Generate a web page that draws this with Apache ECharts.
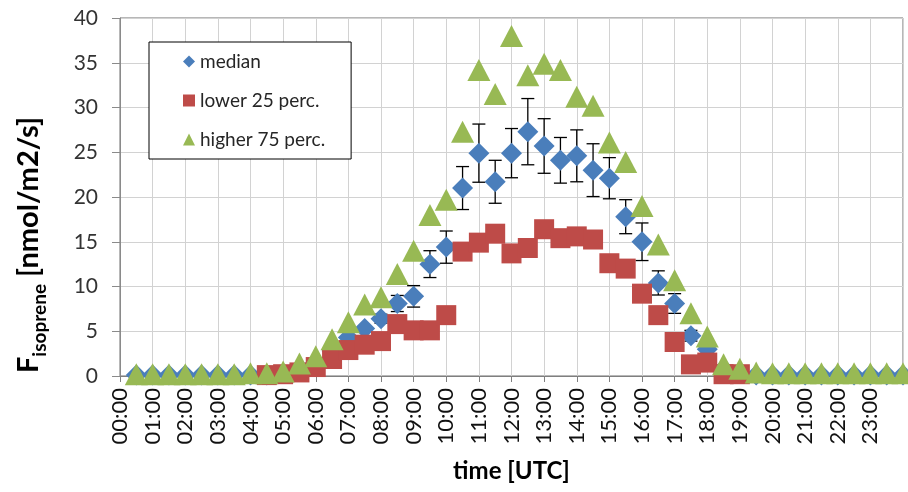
<!DOCTYPE html>
<html>
<head>
<meta charset="utf-8">
<title>Isoprene flux diurnal cycle</title>
<script src="https://cdn.jsdelivr.net/npm/echarts@6/dist/echarts.min.js"></script>
<style>
  html, body { margin: 0; padding: 0; background: #fff; }
  #chart { width: 908px; height: 492px; }
</style>
</head>
<body>
<div id="chart"></div>
<script>
// Half-hourly time stamps (UTC)
const times = [
  '00:30','01:00','01:30','02:00','02:30','03:00','03:30','04:00',
  '04:30','05:00','05:30','06:00','06:30','07:00','07:30','08:00',
  '08:30','09:00','09:30','10:00','10:30','11:00','11:30','12:00',
  '12:30','13:00','13:30','14:00','14:30','15:00','15:30','16:00',
  '16:30','17:00','17:30','18:00','18:30','19:00','19:30','20:00',
  '20:30','21:00','21:30','22:00','22:30','23:00','23:30','24:00'
];

// Isoprene flux, nmol/m2/s
const median = [
  0.1, 0.1, 0.1, 0.1, 0.1, 0.1, 0.1, 0.1,
  0.1, 0.3, 0.8, 1.5, 2.8, 4.3, 5.3, 6.4,
  8.1, 8.9, 12.5, 14.4, 21.0, 24.9, 21.7, 24.9,
  27.3, 25.7, 24.1, 24.6, 23.0, 22.1, 17.8, 15.0,
  10.4, 8.1, 4.5, 3.0, 0.8, 0.3, 0.1, 0.1,
  0.1, 0.1, 0.1, 0.1, 0.1, 0.1, 0.1, 0.1
];
const medianErr = [
  0, 0, 0, 0, 0, 0, 0, 0,
  0, 0, 0, 0, 0, 0, 0, 0.5,
  0.9, 1.2, 1.5, 1.8, 2.4, 3.25, 2.4, 2.75,
  3.7, 3.05, 2.55, 2.9, 2.95, 2.3, 1.9, 2.1,
  1.35, 1.1, 0.6, 0.5, 0, 0, 0, 0,
  0, 0, 0, 0, 0, 0, 0, 0
];
const lower25 = [
  null, null, null, null, null, null, null, null,
  0.1, 0.2, 0.4, 1.0, 1.9, 2.9, 3.5, 3.9,
  5.8, 5.1, 5.1, 6.8, 13.9, 14.9, 15.9, 13.7,
  14.3, 16.4, 15.4, 15.6, 15.25, 12.6, 12.0, 9.2,
  6.8, 3.8, 1.3, 1.5, 0.2, 0.2, null, null,
  null, null, null, null, null, null, null, null
];
const higher75 = [
  0.2, 0.2, 0.2, 0.2, 0.2, 0.2, 0.2, 0.3,
  0.3, 0.5, 1.4, 2.2, 4.1, 6.0, 8.0, 8.8,
  11.4, 14.0, 18.0, 19.7, 27.3, 34.2, 31.5, 38.0,
  33.6, 34.9, 34.2, 31.2, 30.2, 26.1, 23.9, 19.0,
  14.7, 10.7, 7.0, 4.4, 1.3, 0.8, 0.4, 0.3,
  0.3, 0.3, 0.3, 0.3, 0.3, 0.3, 0.3, 0.3
];

// Hourly tick labels
const hourLabels = [
  '00:00','01:00','02:00','03:00','04:00','05:00','06:00','07:00',
  '08:00','09:00','10:00','11:00','12:00','13:00','14:00','15:00',
  '16:00','17:00','18:00','19:00','20:00','21:00','22:00','23:00'
];

const seriesNames = ['median', 'lower 25 perc.', 'higher 75 perc.'];

function toHours(t) {
  const p = t.split(':');
  return Number(p[0]) + Number(p[1]) / 60;
}
const hours = times.map(toHours);
const pairs = arr => hours.map((h, i) => [h, arr[i]]);

const FONT = 'Lato, "Open Sans", sans-serif';

const chart = echarts.init(document.getElementById('chart'), null, { renderer: 'canvas' });

chart.setOption({
  backgroundColor: '#ffffff',
  animation: false,
  grid: {
    left: 120, right: 5, top: 18, bottom: 116,
    show: true, borderColor: '#6e6e6e', borderWidth: 1
  },
  legend: {
    orient: 'vertical',
    left: 149, top: 42,
    padding: [10, 26, 10, 34],
    itemGap: 20,
    itemWidth: 12, itemHeight: 12,
    backgroundColor: '#ffffff',
    borderColor: '#000000', borderWidth: 1,
    data: seriesNames,
    textStyle: { fontFamily: FONT, fontSize: 19, color: '#262626' }
  },
  xAxis: {
    type: 'value', min: 0, max: 24, interval: 1,
    name: 'time [UTC]', nameLocation: 'middle', nameGap: 83,
    nameTextStyle: { fontFamily: FONT, fontSize: 24, fontWeight: 'bold', color: '#000' },
    axisLine: { show: true, lineStyle: { color: '#7f7f7f', width: 1 } },
    axisTick: { show: true, inside: false, length: 6, lineStyle: { color: '#7f7f7f' } },
    splitLine: { show: true, lineStyle: { color: '#d2d2d2', width: 1 } },
    axisLabel: {
      rotate: 90, margin: 12,
      fontFamily: FONT, fontSize: 22, color: '#111',
      formatter: v => (v < hourLabels.length ? hourLabels[v] : '')
    }
  },
  yAxis: {
    type: 'value', min: 0, max: 40, interval: 5,
    axisLine: { show: true, lineStyle: { color: '#8a8a8a', width: 1 } },
    axisTick: { show: true, inside: false, length: 8, lineStyle: { color: '#8a8a8a' } },
    splitLine: { show: true, lineStyle: { color: '#d2d2d2', width: 1 } },
    axisLabel: { margin: 22, fontFamily: FONT, fontSize: 21, color: '#333' }
  },
  graphic: [{
    type: 'text',
    x: 29, y: 245,
    rotation: Math.PI / 2,
    style: {
      text: '{f|F}{s|isoprene}{f| [nmol/m2/s]}',
      align: 'center', verticalAlign: 'middle',
      fill: '#000',
      rich: {
        f: { fontFamily: FONT, fontSize: 29, fontWeight: 'bold', fill: '#000' },
        s: { fontFamily: FONT, fontSize: 19, fontWeight: 'bold', fill: '#000',
             verticalAlign: 'bottom', padding: [0, 0, -6, 0] }
      }
    }
  }],
  series: [
    {
      // error bars of the median, drawn beneath the diamonds
      type: 'custom',
      name: 'median error',
      data: hours.map((h, i) => [h, median[i], medianErr[i]]),
      encode: { x: 0, y: 1 },
      silent: true,
      z: 1,
      renderItem: function (params, api) {
        const x = api.value(0), m = api.value(1), e = api.value(2);
        if (!e) return null;
        const top = api.coord([x, m + e]);
        const bot = api.coord([x, m - e]);
        const half = 6.5;
        const st = { stroke: '#000', lineWidth: 1.3 };
        return {
          type: 'group',
          children: [
            { type: 'line', shape: { x1: top[0], y1: top[1], x2: bot[0], y2: bot[1] }, style: st },
            { type: 'line', shape: { x1: top[0] - half, y1: top[1], x2: top[0] + half, y2: top[1] }, style: st },
            { type: 'line', shape: { x1: bot[0] - half, y1: bot[1], x2: bot[0] + half, y2: bot[1] }, style: st }
          ]
        };
      }
    },
    {
      type: 'scatter', name: seriesNames[0],
      data: pairs(median),
      symbol: 'diamond', symbolSize: [21, 21],
      itemStyle: { color: '#4a7ebb', opacity: 1 },
      z: 2
    },
    {
      type: 'scatter', name: seriesNames[1],
      data: pairs(lower25),
      symbol: 'rect', symbolSize: [20, 20],
      itemStyle: { color: '#be4b48', opacity: 1 },
      z: 3
    },
    {
      type: 'scatter', name: seriesNames[2],
      data: pairs(higher75),
      symbol: 'triangle', symbolSize: [23, 22],
      itemStyle: { color: '#98b954', opacity: 1 },
      z: 4
    }
  ]
});
</script>
</body>
</html>
